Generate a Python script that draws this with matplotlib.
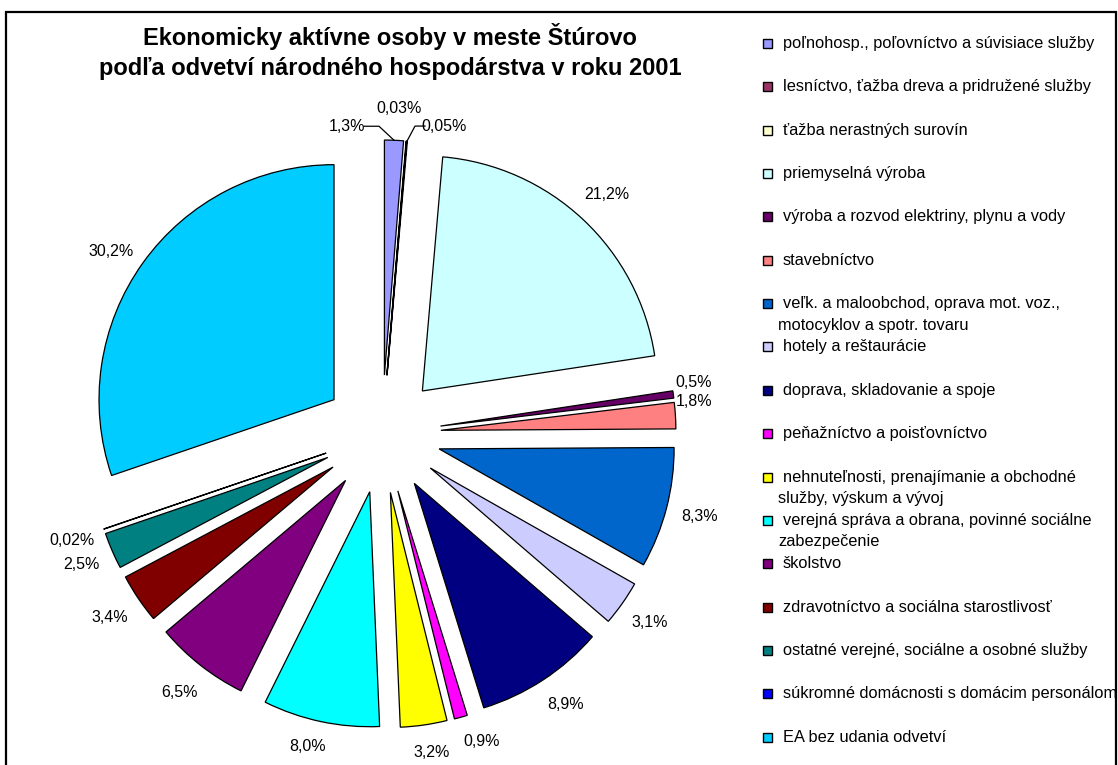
import matplotlib
matplotlib.use('Agg')
import matplotlib.pyplot as plt
from matplotlib.patches import Rectangle
import numpy as np

plt.rcParams['font.family'] = ['Liberation Sans', 'DejaVu Sans']

# ---------------- data ----------------
title_lines = ["Ekonomicky aktívne osoby v meste Štúrovo",
               "podľa odvetví národného hospodárstva v roku 2001"]

categories = [
    "poľnohosp., poľovníctvo a súvisiace služby",
    "lesníctvo, ťažba dreva a pridružené služby",
    "ťažba nerastných surovín",
    "priemyselná výroba",
    "výroba a rozvod elektriny, plynu a vody",
    "stavebníctvo",
    "veľk. a maloobchod, oprava mot. voz.,\nmotocyklov a spotr. tovaru",
    "hotely a reštaurácie",
    "doprava, skladovanie a spoje",
    "peňažníctvo a poisťovníctvo",
    "nehnuteľnosti, prenajímanie a obchodné\nslužby, výskum a vývoj",
    "verejná správa a obrana, povinné sociálne\nzabezpečenie",
    "školstvo",
    "zdravotníctvo a sociálna starostlivosť",
    "ostatné verejné, sociálne a osobné služby",
    "súkromné domácnosti s domácim personálom",
    "EA bez udania odvetví",
]

values = [1.3, 0.03, 0.05, 21.2, 0.5, 1.8, 8.3, 3.1, 8.9, 0.9,
          3.2, 8.0, 6.5, 3.4, 2.5, 0.02, 30.2]

value_labels = ["1,3%", "0,03%", "0,05%", "21,2%", "0,5%", "1,8%", "8,3%",
                "3,1%", "8,9%", "0,9%", "3,2%", "8,0%", "6,5%", "3,4%",
                "2,5%", "0,02%", "30,2%"]

colors = ["#9999FF", "#993366", "#FFFFCC", "#CCFFFF", "#660066", "#FF8080",
          "#0066CC", "#CCCCFF", "#000080", "#FF00FF", "#FFFF00", "#00FFFF",
          "#800080", "#800000", "#008080", "#0000FF", "#00CCFF"]

# ---------------- layout (pixel units) ----------------
W, H = 1118, 765
PIE_CX, PIE_CY = 382, 434      # pixel coords (y down)
PIE_R = 235
EXPLODE = 59
LABEL_R = 328

# label nudges (pixels, x right, y down) for crowded labels
label_nudge = {4: (-13, -7), 5: (-15, -12), 9: (12, -8), 10: (3, -6),
               11: (-6, -8), 8: (4, -4), 16: (-4, 8)}
# top small slices: label offset relative to wedge outer point
top_offsets = {0: (-47, -14), 1: (-7, -33), 2: (37, -15)}

fig = plt.figure(figsize=(W / 100, H / 100), dpi=100)
ax = fig.add_axes([0, 0, 1, 1])


def py(y):
    return H - y


wedges, _ = ax.pie(values, colors=colors, startangle=90, counterclock=False,
                   radius=PIE_R, center=(PIE_CX, py(PIE_CY)),
                   explode=[EXPLODE] * len(values), frame=True,
                   wedgeprops=dict(edgecolor='black', linewidth=0.9))

ax.set_xlim(0, W)
ax.set_ylim(0, H)
ax.set_aspect('auto')
ax.axis('off')

# data labels
for i, w in enumerate(wedges):
    thm = np.deg2rad((w.theta1 + w.theta2) / 2)
    c, s = np.cos(thm), np.sin(thm)
    if i in top_offsets:
        ox, oy = w.center[0] + PIE_R * c, w.center[1] + PIE_R * s
        dx, dy = top_offsets[i]
        tx, ty = ox + dx, oy - dy
        ax.text(tx, ty, value_labels[i], ha='center', va='center',
                fontsize=11.5, color='black')
        if i == 0:
            ex, ey = ox - 15, ty
            ax.plot([ox, ex, tx + 17], [oy, ey, ey], color='black', lw=0.9)
        elif i == 2:
            ex, ey = ox + 8, ty
            ax.plot([ox, ex, tx - 19], [oy, ey, ey], color='black', lw=0.9)
        continue
    tx = PIE_CX + LABEL_R * c
    ty = py(PIE_CY) + LABEL_R * s
    if i in label_nudge:
        tx += label_nudge[i][0]
        ty -= label_nudge[i][1]
    ax.text(tx, ty, value_labels[i], ha='center', va='center',
            fontsize=11.5, color='black')

# title
ax.text(390, py(36), title_lines[0], ha='center', va='center',
        fontsize=17, weight='bold')
ax.text(390, py(68), title_lines[1], ha='center', va='center',
        fontsize=17, weight='bold')

# legend
LEG_Y0, LEG_DY = 43.3, 43.375
for i, (lab, col) in enumerate(zip(categories, colors)):
    yc = LEG_Y0 + i * LEG_DY
    ax.add_patch(Rectangle((763, py(yc) - 4.5), 9, 9, facecolor=col,
                           edgecolor='black', linewidth=1.0))
    for k, line in enumerate(lab.split("\n")):
        xk = 783 if k == 0 else 778
        ax.text(xk, py(yc + k * 21.5), line, ha='left', va='center',
                fontsize=11.8, color='black')

# outer frame
ax.add_patch(Rectangle((6, py(775)), 1110, 775 - 12, facecolor='none',
                       edgecolor='black', linewidth=1.6, clip_on=False))

fig.savefig('out.png', dpi=100, facecolor='white')
